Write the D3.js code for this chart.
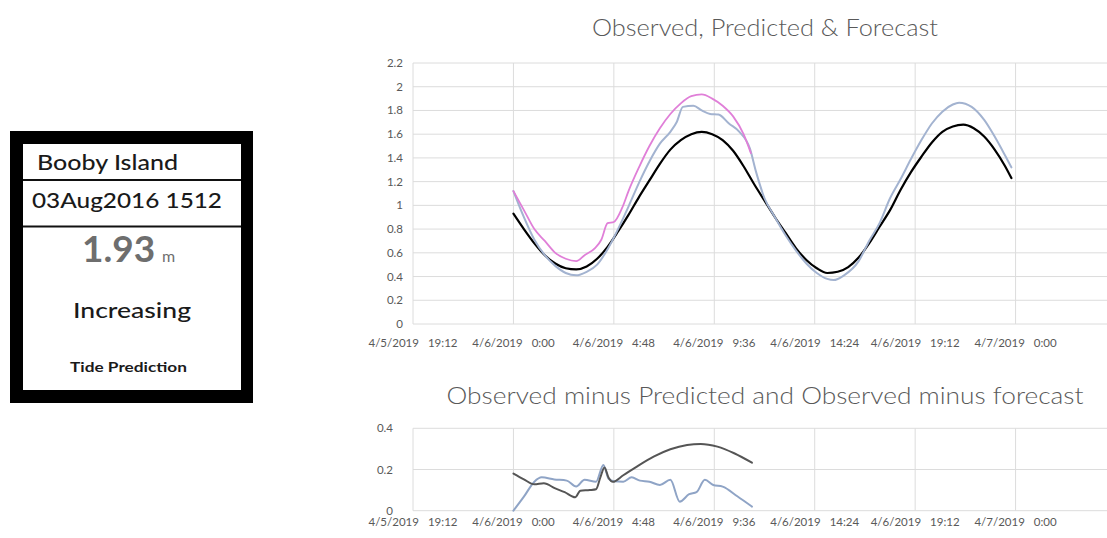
<!DOCTYPE html>
<html>
<head>
<meta charset="utf-8">
<script src="https://cdn.jsdelivr.net/npm/d3@7"></script>
<style>
  body { margin: 0; background: #fff; }
  text { font-family: Lato, "Open Sans", sans-serif; }
</style>
</head>
<body>
<svg id="chart" width="1107" height="538"></svg>
<script>
// hours after 4/6/2019 0:00
const predHours = [0, 0.5, 1, 1.5, 2, 2.5, 3, 3.5, 4, 4.5, 5, 5.5, 6, 6.5, 7, 7.5, 8, 8.5, 9, 9.5, 10, 10.5, 11, 11.5, 12, 12.5, 13, 13.5, 14, 14.5, 15, 15.5, 16, 16.5, 17, 17.5, 18, 18.5, 19, 19.5, 20, 20.5, 21, 21.5, 22, 22.5, 23, 23.5, 23.8];
const predicted = [0.93, 0.80, 0.68, 0.58, 0.51, 0.47, 0.46, 0.485, 0.55, 0.65, 0.78, 0.92, 1.07, 1.21, 1.35, 1.47, 1.55, 1.60, 1.62, 1.60, 1.55, 1.46, 1.33, 1.18, 1.04, 0.90, 0.77, 0.64, 0.54, 0.47, 0.43, 0.44, 0.48, 0.56, 0.68, 0.82, 0.96, 1.13, 1.28, 1.41, 1.53, 1.62, 1.665, 1.68, 1.65, 1.58, 1.47, 1.33, 1.23];

const obsHours = [0, 0.5, 1, 1.5, 2, 2.5, 3, 3.4, 3.9, 4.2, 4.5, 4.8, 5.2, 5.5, 6, 6.5, 7, 7.5, 8, 8.5, 9, 9.5, 10, 10.5, 11, 11.35];
const observed = [1.12, 0.96, 0.80, 0.70, 0.60, 0.55, 0.53, 0.58, 0.64, 0.71, 0.85, 0.86, 0.98, 1.12, 1.32, 1.50, 1.65, 1.77, 1.86, 1.92, 1.935, 1.90, 1.84, 1.75, 1.60, 1.44];

const fcstHours = [0, 0.5, 1, 1.5, 2, 2.5, 3, 3.5, 4, 4.5, 5, 5.5, 6, 6.5, 7, 7.5, 7.8, 8.1, 8.6, 9, 9.4, 9.8, 10.3, 10.8, 11.3, 11.6, 12, 12.5, 13, 13.5, 14, 14.5, 15, 15.3, 15.8, 16.5, 17, 17.5, 18, 18.5, 19, 19.5, 20, 20.5, 21, 21.3, 21.9, 22.5, 23, 23.5, 23.8];
const forecast = [1.12, 0.90, 0.71, 0.58, 0.49, 0.43, 0.41, 0.44, 0.50, 0.63, 0.80, 0.99, 1.19, 1.37, 1.52, 1.62, 1.70, 1.83, 1.84, 1.80, 1.77, 1.765, 1.69, 1.62, 1.48, 1.28, 1.06, 0.90, 0.75, 0.62, 0.51, 0.43, 0.38, 0.37, 0.41, 0.53, 0.70, 0.85, 1.06, 1.22, 1.39, 1.55, 1.69, 1.79, 1.85, 1.865, 1.83, 1.72, 1.58, 1.42, 1.32];

const ompHours = [0, 0.5, 1, 1.45, 2, 2.45, 2.95, 3.2, 3.65, 3.95, 4.15, 4.35, 4.55, 4.75, 5.25, 5.9, 6.7, 7.5, 8.3, 8.95, 9.75, 10.55, 11.4];
const obsMinusPred = [0.18, 0.152, 0.128, 0.133, 0.108, 0.09, 0.065, 0.097, 0.10, 0.104, 0.16, 0.21, 0.16, 0.14, 0.172, 0.214, 0.262, 0.298, 0.319, 0.324, 0.311, 0.279, 0.233];

const omfHours = [0, 0.5, 1, 1.35, 1.95, 2.55, 3, 3.4, 3.95, 4.3, 4.55, 4.8, 5.25, 5.65, 6.05, 6.5, 7, 7.5, 7.95, 8.4, 8.75, 9.15, 9.55, 10, 10.7, 11.4];
const obsMinusFcst = [0.0, 0.068, 0.141, 0.162, 0.152, 0.146, 0.117, 0.15, 0.141, 0.222, 0.155, 0.143, 0.141, 0.162, 0.146, 0.141, 0.125, 0.15, 0.044, 0.08, 0.09, 0.15, 0.125, 0.117, 0.07, 0.02];

const xTicks = ["2019-04-05T19:12", "2019-04-06T00:00", "2019-04-06T04:48", "2019-04-06T09:36", "2019-04-06T14:24", "2019-04-06T19:12", "2019-04-07T00:00"];
const topYTicks = [0, 0.2, 0.4, 0.6, 0.8, 1, 1.2, 1.4, 1.6, 1.8, 2, 2.2];
const botYTicks = [0, 0.2, 0.4];

const station = "Booby Island";
const stamp = "03Aug2016 1512";
const level = "1.93";
const trend = "Increasing";

const svg = d3.select("#chart");
const parse = d3.timeParse("%Y-%m-%dT%H:%M");
const base = parse("2019-04-06T00:00");
const toDate = h => new Date(base.getTime() + h * 3600000);
const fmtDate = d3.timeFormat("%-m/%-d/%Y");
const fmtTime = d3.timeFormat("%-H:%M");

// --- info box on the left
const box = svg.append("g");
box.append("rect").attr("x", 10).attr("y", 131).attr("width", 243).attr("height", 272).attr("fill", "#000");
box.append("rect").attr("x", 23).attr("y", 144).attr("width", 218).attr("height", 246).attr("fill", "#fff");
[180, 226.5].forEach(y => {
  box.append("line").attr("x1", 23).attr("x2", 241).attr("y1", y).attr("y2", y)
    .attr("stroke", "#111").attr("stroke-width", 2);
});
function boxText(t, x, y, size, w, weight) {
  return box.append("text").attr("x", x).attr("y", y).attr("font-size", size)
    .attr("font-weight", weight || "normal").attr("fill", "#1a1a1a")
    .attr("textLength", w).attr("lengthAdjust", "spacingAndGlyphs").text(t);
}
boxText(station, 37, 170, 22, 141, 500);
boxText(stamp, 32, 208, 22, 190, 500);
boxText(trend, 73, 318, 22, 118, 500);
boxText("Tide Prediction", 70, 372, 13.5, 117, "bold");
const lv = box.append("text").attr("x", 82).attr("y", 262).attr("fill", "#6e6e6e")
  .attr("font-family", "'Liberation Sans', Arial");
lv.append("tspan").attr("font-weight", "bold").attr("font-size", 37).text(level);
lv.append("tspan").attr("font-size", 16).attr("x", 162).text("m");

// --- shared time scale
const x = d3.scaleTime()
  .domain([parse("2019-04-05T19:12"), parse("2019-04-07T04:48")])
  .range([413, 1116]);
const tickDates = xTicks.map(parse);

function panel(y, yTicks, labelX, labelY, title, titleY, titleSize, titleW, series) {
  const g = svg.append("g");
  const [y0, y1] = y.range();
  // horizontal grid
  g.selectAll(".hg").data(yTicks).join("line")
    .attr("x1", 413).attr("x2", 1116)
    .attr("y1", d => y(d)).attr("y2", d => y(d))
    .attr("stroke", "#dcdcdc").attr("stroke-width", 1);
  // vertical grid
  g.selectAll(".vg").data(tickDates).join("line")
    .attr("x1", d => x(d)).attr("x2", d => x(d))
    .attr("y1", y1).attr("y2", y0)
    .attr("stroke", "#dcdcdc").attr("stroke-width", 1);
  // y labels
  g.selectAll(".yl").data(yTicks).join("text")
    .attr("x", labelX).attr("y", d => y(d) + 4)
    .attr("text-anchor", "end").attr("font-size", 11.5).attr("fill", "#595959")
    .text(d => d3.format("~g")(d));
  // x labels: date and time with a gap, centred on the gridline
  const xl = g.selectAll(".xl").data(tickDates).join("text")
    .attr("x", d => x(d)).attr("y", labelY)
    .attr("text-anchor", "middle").attr("font-size", 11.5).attr("fill", "#595959");
  xl.append("tspan").text(d => fmtDate(d));
  xl.append("tspan").attr("dx", 9).text(d => fmtTime(d));
  g.append("text").attr("x", 765).attr("y", titleY).attr("text-anchor", "middle")
    .attr("font-size", titleSize).attr("font-weight", 300).attr("fill", "#595959")
    .attr("textLength", titleW).attr("lengthAdjust", "spacingAndGlyphs").text(title);

  series.forEach(s => {
    const pts = s.hours.map((h, i) => [toDate(h), s.values[i]]);
    g.append("path").datum(pts)
      .attr("fill", "none").attr("stroke", s.color).attr("stroke-width", s.width)
      .attr("stroke-linejoin", "round").attr("stroke-linecap", "round")
      .attr("d", d3.line().x(d => x(d[0])).y(d => y(d[1])).curve(d3.curveMonotoneX));
  });
}

const yTop = d3.scaleLinear().domain([0, 2.2]).range([324, 63]);
panel(yTop, topYTicks, 403, 347, "Observed, Predicted & Forecast", 36, 23, 346, [
  {hours: predHours, values: predicted, color: "#000000", width: 2.2},
  {hours: fcstHours, values: forecast, color: "#a3b3d0", width: 2},
  {hours: obsHours, values: observed, color: "#e07fd8", width: 1.8}
]);

const yBot = d3.scaleLinear().domain([0, 0.4]).range([510.7, 428.3]);
panel(yBot, botYTicks, 393, 526, "Observed minus Predicted and Observed minus forecast", 404, 24, 637, [
  {hours: omfHours, values: obsMinusFcst, color: "#8fa4c6", width: 2},
  {hours: ompHours, values: obsMinusPred, color: "#555555", width: 2}
]);
</script>
</body>
</html>
